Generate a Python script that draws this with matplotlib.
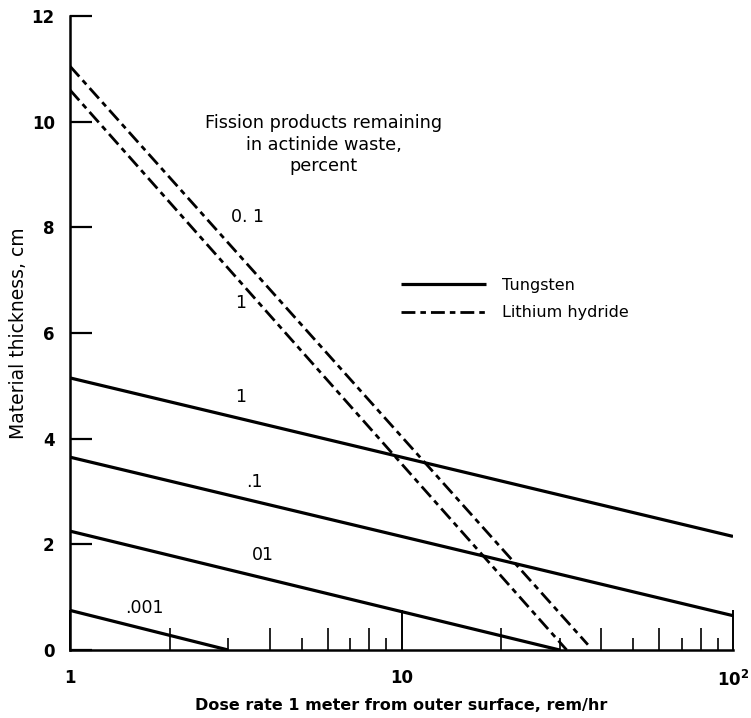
import numpy as np
import matplotlib
matplotlib.use('Agg')
import matplotlib.pyplot as plt
from matplotlib.ticker import NullLocator

# dose rate (rem/hr) endpoints and material thickness (cm) for each line
tungsten_labels = ['1', '.1', '01', '.001']
tungsten_dose = [[1, 100], [1, 100], [1, 30], [1, 3]]
tungsten_thick = [[5.15, 2.15], [3.65, 0.65], [2.25, 0.0], [0.75, 0.0]]

lih_labels = ['0. 1', '1']
lih_dose = [[1, 36.5], [1, 31.5]]
lih_thick = [[11.05, 0.1], [10.6, 0.0]]

# label positions (dose, thickness)
tungsten_label_pos = [(3.26, 4.79), (3.61, 3.18), (3.82, 1.8), (1.68, 0.80)]
lih_label_pos = [(3.42, 8.2), (3.26, 6.57)]

yticks = [0, 2, 4, 6, 8, 10, 12]
xticks = [1, 10, 100]
xticklabels = ['1', '10', '$\\mathbf{10^2}$']
even_minor = [2, 4, 6, 8, 20, 40, 60, 80]
odd_minor = [3, 5, 7, 9, 30, 50, 70, 90]

plt.rcParams['font.family'] = 'DejaVu Sans'
fig = plt.figure(figsize=(7.51, 7.18), dpi=100)
ax = fig.add_axes([70 / 751, 68 / 718, 663 / 751, 634 / 718])

ax.set_xscale('log')
ax.set_xlim(1, 100)
ax.set_ylim(0, 12)

for i, (d, t) in enumerate(zip(tungsten_dose, tungsten_thick)):
    ax.plot(d, t, color='black', lw=2.3, solid_capstyle='butt',
            label='Tungsten' if i == 0 else None)
for (x, y), s in zip(tungsten_label_pos, tungsten_labels):
    ax.text(x, y, s, fontsize=12.5, ha='center', va='center')

lih_style = (0, (5, 1.8, 2, 1.8))
for i, (d, t) in enumerate(zip(lih_dose, lih_thick)):
    ax.plot(d, t, color='black', lw=2.0, linestyle=lih_style,
            label='Lithium hydride' if i == 0 else None)
for (x, y), s in zip(lih_label_pos, lih_labels):
    ax.text(x, y, s, fontsize=12.5, ha='center', va='center')

ax.text(0.383, 0.797, 'Fission products remaining\nin actinide waste,\npercent',
        transform=ax.transAxes, ha='center', va='center', fontsize=12.7,
        linespacing=1.25)

leg = ax.legend(loc='upper left', bbox_to_anchor=(0.4995, 0.587), frameon=False,
                fontsize=11.5, handlelength=5.3, handletextpad=1.0,
                labelspacing=0.78, borderpad=0, borderaxespad=0)

# spines and ticks
for s in ['top', 'right']:
    ax.spines[s].set_visible(False)
for s in ['left', 'bottom']:
    ax.spines[s].set_linewidth(1.8)

ax.set_yticks(yticks)
ax.set_yticklabels([str(v) for v in yticks], fontweight='bold', fontsize=12)
ax.tick_params(axis='y', direction='in', length=16, width=1.6, pad=11)

ax.set_xticks(xticks)
ax.set_xticklabels(xticklabels, fontweight='bold', fontsize=12)
ax.set_xticks(even_minor, minor=True)
ax.xaxis.set_minor_formatter(plt.NullFormatter())
ax.tick_params(axis='x', which='major', direction='in', length=29, width=1.4, pad=14)
ax.tick_params(axis='x', which='minor', direction='in', length=16, width=1.2)

sec = ax.secondary_xaxis('bottom')
sec.spines['bottom'].set_visible(False)
sec.set_xticks(odd_minor)
sec.set_xticklabels([''] * len(odd_minor))
sec.xaxis.set_minor_locator(NullLocator())
sec.tick_params(axis='x', direction='in', length=9, width=1.2)

ax.set_ylabel('Material thickness, cm', fontsize=13.5)
ax.yaxis.set_label_coords(-0.063, 0.5)
ax.set_xlabel('Dose rate 1 meter from outer surface, rem/hr', fontsize=11.5,
              fontweight='bold')
ax.xaxis.set_label_coords(0.5, -0.075)

fig.savefig('out.png', dpi=100)
